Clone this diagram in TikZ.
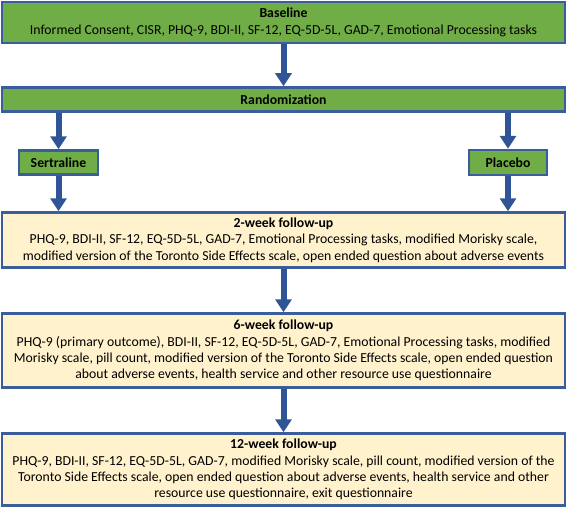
\documentclass[tikz,border=0pt]{standalone}
\usepackage{fontspec}
\setmainfont{Carlito}
\usetikzlibrary{arrows.meta}
\definecolor{bordblue}{HTML}{3A5E9C}
\definecolor{arrblue}{HTML}{2F5597}
\definecolor{boxgreen}{HTML}{70AD47}
\definecolor{boxcream}{HTML}{FFF2CC}
\tikzset{
  greenbox/.style={draw=bordblue, line width=2.5pt, fill=boxgreen, inner sep=0pt, align=center,
    font=\fontsize{13.75}{16.3}\selectfont},
  creambox/.style={draw=bordblue, line width=2.5pt, fill=boxcream, inner sep=0pt, align=center,
    font=\fontsize{13.75}{16.3}\selectfont},
  flowarrow/.style={draw=arrblue, line width=6pt, -{Triangle[width=16pt,length=13pt]}, shorten >=0pt}
}
\begin{document}
\begin{tikzpicture}[x=1pt,y=1pt]
\useasboundingbox (0,0) rectangle (567,-508);
\node[greenbox, minimum width=563pt, minimum height=41pt] (base) at (283.5,-22.5)
  {\textbf{Baseline}\\Informed Consent, CISR, PHQ-9, BDI-II, SF-12, EQ-5D-5L, GAD-7, Emotional Processing tasks};
\node[greenbox, minimum width=563pt, minimum height=24pt] (rand) at (283.5,-99.5) {\textbf{Randomization}};
\node[greenbox, minimum width=79pt, minimum height=24pt] (sert) at (58.5,-162.5) {\textbf{Sertraline}};
\node[greenbox, minimum width=78pt, minimum height=25pt] (plac) at (508,-162.5) {\textbf{Placebo}};
\node[creambox, minimum width=563pt, minimum height=55pt] (w2) at (283.5,-240)
  {\textbf{2-week follow-up}\\PHQ-9, BDI-II, SF-12, EQ-5D-5L, GAD-7, Emotional Processing tasks, modified Morisky scale,\\modified version of the Toronto Side Effects scale, open ended question about adverse events};
\node[creambox, minimum width=563pt, minimum height=74pt] (w6) at (283.5,-350.5)
  {\textbf{6-week follow-up}\\PHQ-9 (primary outcome), BDI-II, SF-12, EQ-5D-5L, GAD-7, Emotional Processing tasks, modified\\Morisky scale, pill count, modified version of the Toronto Side Effects scale, open ended question\\about adverse events, health service and other resource use questionnaire};
\node[creambox, minimum width=563pt, minimum height=72pt] (w12) at (283.5,-469.5)
  {\textbf{12-week follow-up}\\PHQ-9, BDI-II, SF-12, EQ-5D-5L, GAD-7, modified Morisky scale, pill count, modified version of the\\Toronto Side Effects scale, open ended question about adverse events, health service and other\\resource use questionnaire, exit questionnaire};
\draw[flowarrow] (base.south) -- (rand.north);
\draw[flowarrow] (rand.south -| sert.north) -- (sert.north);
\draw[flowarrow] (rand.south -| plac.north) -- (plac.north);
\draw[flowarrow] (sert.south) -- (sert.south |- w2.north);
\draw[flowarrow] (plac.south) -- (plac.south |- w2.north);
\draw[flowarrow] (w2.south) -- (w6.north);
\draw[flowarrow] (w6.south) -- (w12.north);
\end{tikzpicture}
\end{document}
